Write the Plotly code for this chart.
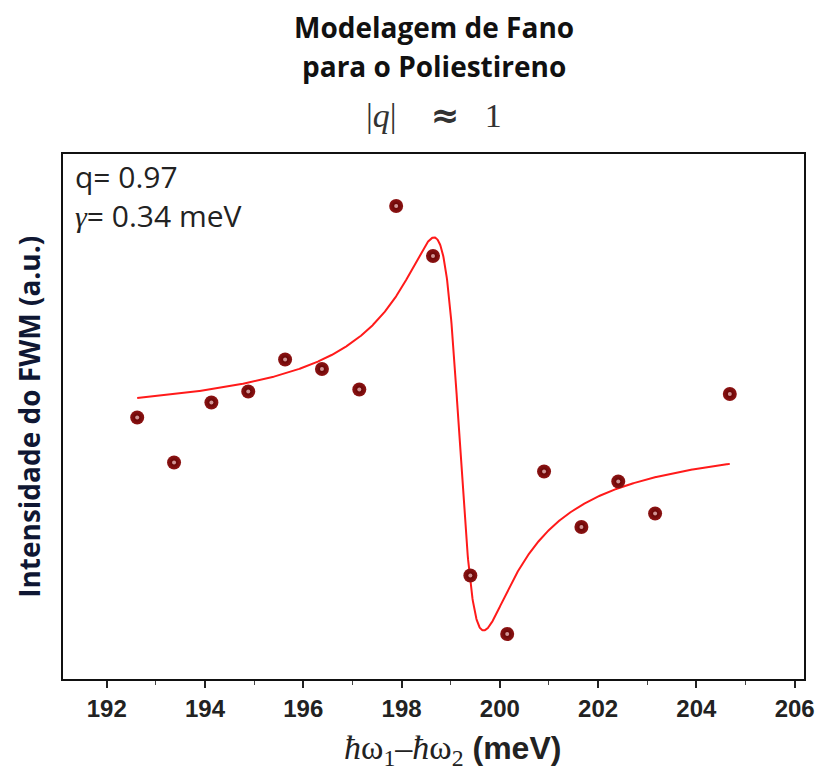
import numpy as np
import plotly.graph_objects as go

# Measured FWM intensity (arbitrary units) vs. energy difference (meV)
energy_mev = [192.62, 193.37, 194.13, 194.88, 195.63, 196.38, 197.14, 197.89,
              198.64, 199.40, 200.15, 200.90, 201.66, 202.41, 203.16, 204.68]
intensity = [0.523, 0.433, 0.553, 0.575, 0.639, 0.620, 0.579, 0.946,
             0.846, 0.207, 0.090, 0.415, 0.304, 0.395, 0.331, 0.570]

# Fano model parameters
q_fano = 0.97
gamma_label = 0.34          # meV, as reported
fano_center = 199.18        # meV
fano_halfwidth = 0.505      # meV, in plot units
fano_amp = 0.405
fano_offset = 0.097

x_ticks = [192, 194, 196, 198, 200, 202, 204, 206]

e_fit = np.linspace(energy_mev[0], energy_mev[-1], 1500)
eps = -(e_fit - fano_center) / fano_halfwidth
fano_fit = fano_amp * (q_fano + eps) ** 2 / (1 + eps ** 2) + fano_offset

fig = go.Figure()

fig.add_trace(go.Scatter(
    x=e_fit, y=fano_fit, mode="lines",
    line=dict(color="#ff1a1a", width=2), hoverinfo="skip", showlegend=False,
))

# shaded spheres: dark body plus a small soft highlight
fig.add_trace(go.Scatter(
    x=energy_mev, y=intensity, mode="markers",
    marker=dict(size=14, color="#8e1414",
                gradient=dict(type="radial", color="#5c0000"),
                line=dict(width=0)),
    showlegend=False,
))
fig.add_trace(go.Scatter(
    x=energy_mev, y=intensity, mode="markers",
    marker=dict(size=4, color="rgba(255,210,210,0.7)", line=dict(width=0)),
    hoverinfo="skip", showlegend=False,
))

title_font = dict(family="Open Sans", size=28, color="#111111")
text_font = dict(family="Open Sans", size=30, color="#222222")
annotations = [
    dict(text="<b>Modelagem de Fano</b>", x=0.5, y=(679 - 27) / 525,
         xref="paper", yref="paper", showarrow=False, font=title_font,
         xanchor="center", yanchor="middle"),
    dict(text="<b>para o Poliestireno</b>", x=0.5, y=(679 - 66) / 525,
         xref="paper", yref="paper", showarrow=False, font=title_font,
         xanchor="center", yanchor="middle"),
    dict(text="|<i>q</i>|\u2003<span style='font-family:DejaVu Sans'><b>≈</b></span>\u2002 1",
         x=0.5, y=(679 - 115) / 525,
         xref="paper", yref="paper", showarrow=False,
         font=dict(family="Liberation Serif", size=34, color="#333333"),
         xanchor="center", yanchor="middle"),
    dict(text=f"q= {q_fano:.2f}", x=0.013, y=(679 - 176) / 525,
         xref="paper", yref="paper", showarrow=False, font=text_font,
         xanchor="left", yanchor="middle"),
    dict(text=f"<span style='font-family:Liberation Serif'><i>γ</i></span>= {gamma_label:.2f} meV",
         x=0.013, y=(679 - 215) / 525,
         xref="paper", yref="paper", showarrow=False, font=text_font,
         xanchor="left", yanchor="middle"),
    dict(text="<b>Intensidade do FWM (a.u.)</b>", x=(28 - 63) / 749, y=0.5,
         xref="paper", yref="paper", showarrow=False, textangle=-90,
         font=dict(family="Open Sans", size=28, color="#0f1733"),
         xanchor="center", yanchor="middle"),
    dict(text="<span style='font-family:Liberation Serif;font-size:34px'><i>ħ</i>ω<sub>1</sub>–<i>ħ</i>ω<sub>2</sub></span> <b>(meV)</b>",
         x=0.525, y=(679 - 750) / 525,
         xref="paper", yref="paper", showarrow=False,
         font=dict(family="Liberation Sans", size=32, color="#222222"),
         xanchor="center", yanchor="middle"),
]

fig.update_layout(
    width=827, height=782,
    margin=dict(l=63, r=15, t=154, b=103),
    paper_bgcolor="white", plot_bgcolor="white",
    annotations=annotations,
    xaxis=dict(
        range=[191.11, 206.19], tickvals=x_ticks,
        ticktext=[f"<b>{t}</b>" for t in x_ticks],
        ticks="outside", ticklen=7, tickwidth=1.5, tickcolor="#222",
        minor=dict(ticks="outside", ticklen=4, tickwidth=1.2, tickcolor="#444", dtick=1),
        showgrid=False, zeroline=False,
        showline=True, linecolor="#111", linewidth=2, mirror=True,
        tickfont=dict(family="Liberation Sans", size=24, color="#222"),
    ),
    yaxis=dict(
        range=[0, 1.05], showticklabels=False, ticks="",
        showgrid=False, zeroline=False,
        showline=True, linecolor="#111", linewidth=2, mirror=True,
    ),
)

fig.write_html("out.html")
